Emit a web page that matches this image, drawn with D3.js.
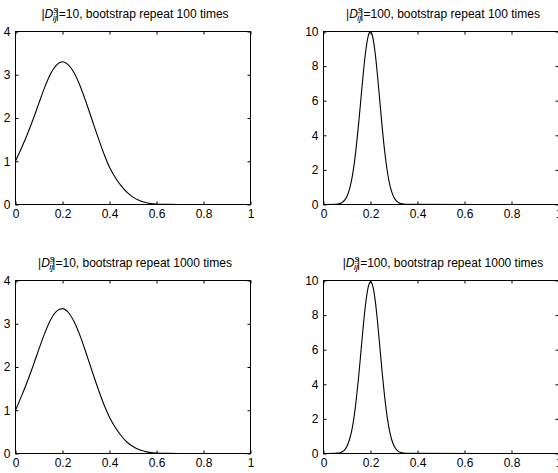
<!DOCTYPE html>
<html>
<head>
<meta charset="utf-8">
<script src="https://cdn.jsdelivr.net/npm/d3@7"></script>
<style>
  html, body { margin: 0; padding: 0; background: #fff; }
  svg { display: block; }
  text { font-family: "Liberation Sans", Arial, Helvetica, sans-serif; }
</style>
</head>
<body>
<svg id="chart" width="558" height="473"></svg>
<script>
// ---- data ----
const xTicks = [0, 0.2, 0.4, 0.6, 0.8, 1];
const xTickLabels = ["0", "0.2", "0.4", "0.6", "0.8", "1"];
const yTicksLeft = [0, 1, 2, 3, 4];
const yTicksRight = [0, 2, 4, 6, 8, 10];

const titles = [
  { n: "10", r: "100" },
  { n: "100", r: "100" },
  { n: "10", r: "1000" },
  { n: "100", r: "1000" }
];

const xLeft = [0, 0.025, 0.05, 0.075, 0.1, 0.125, 0.15, 0.175, 0.2, 0.225, 0.25, 0.275, 0.3,
  0.325, 0.35, 0.375, 0.4, 0.425, 0.45, 0.475, 0.5, 0.525, 0.55, 0.575, 0.6, 0.65, 0.7, 0.8, 1.0];
const yTopLeft = [1.00, 1.30, 1.62, 1.97, 2.35, 2.72, 3.03, 3.23, 3.30, 3.23, 3.04, 2.74, 2.37,
  1.97, 1.57, 1.19, 0.86, 0.62, 0.43, 0.28, 0.17, 0.10, 0.05, 0.02, 0.01, 0.003, 0, 0, 0];
const yBottomLeft = [1.00, 1.32, 1.66, 2.03, 2.42, 2.79, 3.10, 3.29, 3.35, 3.26, 3.04, 2.72, 2.33,
  1.92, 1.52, 1.15, 0.84, 0.60, 0.41, 0.26, 0.16, 0.09, 0.05, 0.02, 0.01, 0.003, 0, 0, 0];

const xRight = [0, 0.05, 0.06, 0.07, 0.08, 0.09, 0.10, 0.11, 0.12, 0.13, 0.14, 0.15, 0.16, 0.17,
  0.18, 0.19, 0.20, 0.21, 0.22, 0.23, 0.24, 0.25, 0.26, 0.27, 0.28, 0.29, 0.30, 0.31, 0.32,
  0.33, 0.34, 0.35, 1.0];
const yTopRight = [0, 0.01, 0.02, 0.05, 0.12, 0.25, 0.48, 0.86, 1.44, 2.28, 3.40, 4.75, 6.23, 7.68,
  8.90, 9.72, 9.99, 9.64, 8.74, 7.43, 5.92, 4.43, 3.11, 2.05, 1.27, 0.74, 0.40, 0.21, 0.10,
  0.05, 0.02, 0.01, 0];
const yBottomRight = [0, 0.01, 0.02, 0.04, 0.10, 0.21, 0.42, 0.78, 1.31, 2.11, 3.19, 4.51, 5.99, 7.48,
  8.74, 9.60, 9.92, 9.66, 8.85, 7.60, 6.13, 4.64, 3.30, 2.20, 1.38, 0.81, 0.45, 0.23, 0.11,
  0.05, 0.02, 0.01, 0];

// ---- layout ----
const svg = d3.select("#chart");
const colX = [15.5, 323.5];
const rowY = [31.5, 280.5];
const W = 235, H = 173;

const panels = [
  { col: 0, row: 0, xs: xLeft, ys: yTopLeft, yTicks: yTicksLeft, yMax: 4, t: titles[0] },
  { col: 1, row: 0, xs: xRight, ys: yTopRight, yTicks: yTicksRight, yMax: 10, t: titles[1] },
  { col: 0, row: 1, xs: xLeft, ys: yBottomLeft, yTicks: yTicksLeft, yMax: 4, t: titles[2] },
  { col: 1, row: 1, xs: xRight, ys: yBottomRight, yTicks: yTicksRight, yMax: 10, t: titles[3] }
];

panels.forEach(p => {
  const g = svg.append("g").attr("transform", `translate(${colX[p.col]},${rowY[p.row]})`);
  const x = d3.scaleLinear().domain([0, 1]).range([0, W]);
  const y = d3.scaleLinear().domain([0, p.yMax]).range([H, 0]);

  // curve
  const line = d3.line().x((d, i) => x(p.xs[i])).y(d => y(d)).curve(d3.curveMonotoneX);
  g.append("path").datum(p.ys).attr("d", line)
    .attr("fill", "none").attr("stroke", "#000").attr("stroke-width", 1.1);

  // axes (inward ticks, MATLAB style)
  const fmt = d => xTickLabels[xTicks.indexOf(d)];
  const ax = g.append("g").attr("transform", `translate(0,${H})`)
    .call(d3.axisBottom(x).tickValues(xTicks).tickFormat(fmt).tickSizeInner(-3).tickSizeOuter(0).tickPadding(5));
  const axTop = g.append("g")
    .call(d3.axisTop(x).tickValues(xTicks).tickFormat("").tickSizeInner(-3).tickSizeOuter(0));
  const ay = g.append("g")
    .call(d3.axisLeft(y).tickValues(p.yTicks).tickFormat(d3.format("d")).tickSizeInner(-3).tickSizeOuter(0).tickPadding(5));
  const ayR = g.append("g").attr("transform", `translate(${W},0)`)
    .call(d3.axisRight(y).tickValues(p.yTicks).tickFormat("").tickSizeInner(-3).tickSizeOuter(0));

  [ax, axTop, ay, ayR].forEach(a => {
    a.select(".domain").remove();
    a.selectAll("line").attr("stroke", "#000");
    a.selectAll("text").attr("fill", "#000").style("font-size", "12px")
      .style("font-family", '"Liberation Sans", Arial, sans-serif');
  });

  // frame
  g.append("rect").attr("x", 0).attr("y", 0).attr("width", W).attr("height", H)
    .attr("fill", "none").attr("stroke", "#000").attr("stroke-width", 1);

  // title
  const t = g.append("text").attr("x", W / 2 + 2).attr("y", -14)
    .attr("text-anchor", "middle").style("font-size", "12px").attr("fill", "#000");
  t.append("tspan").text("|");
  t.append("tspan").style("font-style", "italic").text("D");
  t.append("tspan").style("font-style", "italic").style("font-size", "9px").attr("dy", -5).text("s");
  t.append("tspan").style("font-style", "italic").style("font-size", "9px").attr("dx", -5).attr("dy", 8).text("ij");
  t.append("tspan").attr("dx", -1).attr("dy", -3).text(`|=${p.t.n}, bootstrap repeat ${p.t.r} times`);
});
</script>
</body>
</html>
